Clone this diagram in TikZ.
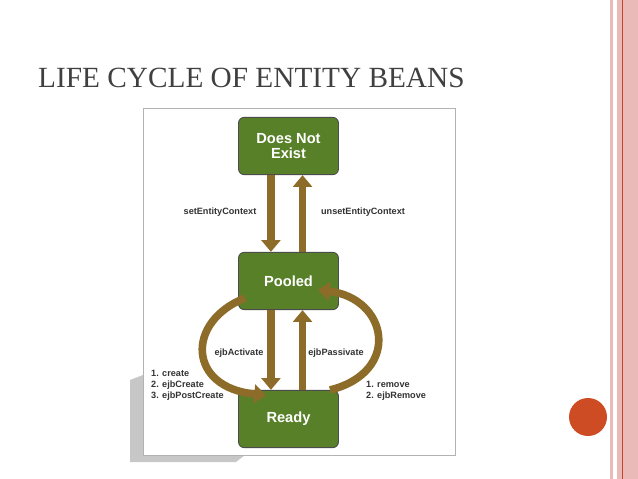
\documentclass[tikz,border=0pt]{standalone}
\usepackage{fontspec}
\setmainfont{Liberation Serif}
\setsansfont{Liberation Sans}
\usetikzlibrary{arrows.meta, positioning}
\definecolor{beangreen}{RGB}{88,128,40}
\definecolor{beanbrown}{RGB}{140,108,40}
\definecolor{slidepink}{RGB}{234,186,184}
\definecolor{slidered}{RGB}{200,70,40}
\tikzset{
  state/.style={draw=black!70, line width=0.8pt, fill=beangreen, rounded corners=5pt,
    minimum width=3.0cm, minimum height=1.72cm, text=white, align=center,
    font=\sffamily\bfseries\fontsize{12.5}{13}\selectfont},
  flow/.style={draw=beanbrown, line width=6.5pt, -{Triangle[length=10pt,width=16pt]}},
  lbl/.style={font=\sffamily\bfseries\fontsize{7.8}{9.5}\selectfont, text=black!80, align=left}
}
\begin{document}
\begin{tikzpicture}[x=0.03cm,y=-0.03cm]
    \useasboundingbox (0,0) rectangle (638,479);

    % Draw slide stripes and dot
    \fill[slidepink] (610,0) rectangle (613,479);
    \fill[slidepink] (617,0) rectangle (638,479);
    \draw[slidered, line width=0.6pt] (622,0) -- (622,479);
    \fill[slidered!90!orange] (588,417) circle (19);

    % Title
    \node[anchor=base west, inner sep=0pt, text=black!75, font=\fontsize{25}{26}\selectfont] (title) at (38,88) {LIFE CYCLE OF ENTITY BEANS};

    % Frame with shadow
    \fill[black!22] (130,380) -- (143,375) -- (143,455) -- (245,455) -- (236,462) -- (130,462) -- cycle;
    \draw[black!30, fill=white] (143,108) rectangle (455,455);

    % States
    \node[state] (dne) at (288.5,146) {Does Not\\Exist};
    \node[state] (pooled) at (288.5,281) {Pooled};
    \node[state] (ready) at (288.5,419) {Ready};

    % Transitions
    \draw[flow] ([xshift=-15]dne.south) -- ([xshift=-15]pooled.north);
    \draw[flow] ([xshift=12]pooled.north) -- ([xshift=12]dne.south);
    \draw[flow] ([xshift=-15]pooled.south) -- ([xshift=-15]ready.north);
    \draw[flow] ([xshift=12]ready.north) -- ([xshift=12]pooled.south);
    \draw[flow] (245,298) .. controls (185,322) and (188,388) .. (266,395);
    \draw[flow] (330,390) .. controls (402,372) and (388,298) .. (318,290);

    % Labels
    \node[lbl] (setctx) at (220,212) {setEntityContext};
    \node[lbl] (unsetctx) at (363,212) {unsetEntityContext};
    \node[lbl] (activate) at (239,353) {ejbActivate};
    \node[lbl] (passivate) at (336,353) {ejbPassivate};
    \node[lbl, anchor=north west, inner sep=0pt] (create) at (151,370) {1. create\\2. ejbCreate\\3. ejbPostCreate};
    \node[lbl, anchor=north west, inner sep=0pt] (remove) at (366,381) {1. remove\\2. ejbRemove};
\end{tikzpicture}
\end{document}
